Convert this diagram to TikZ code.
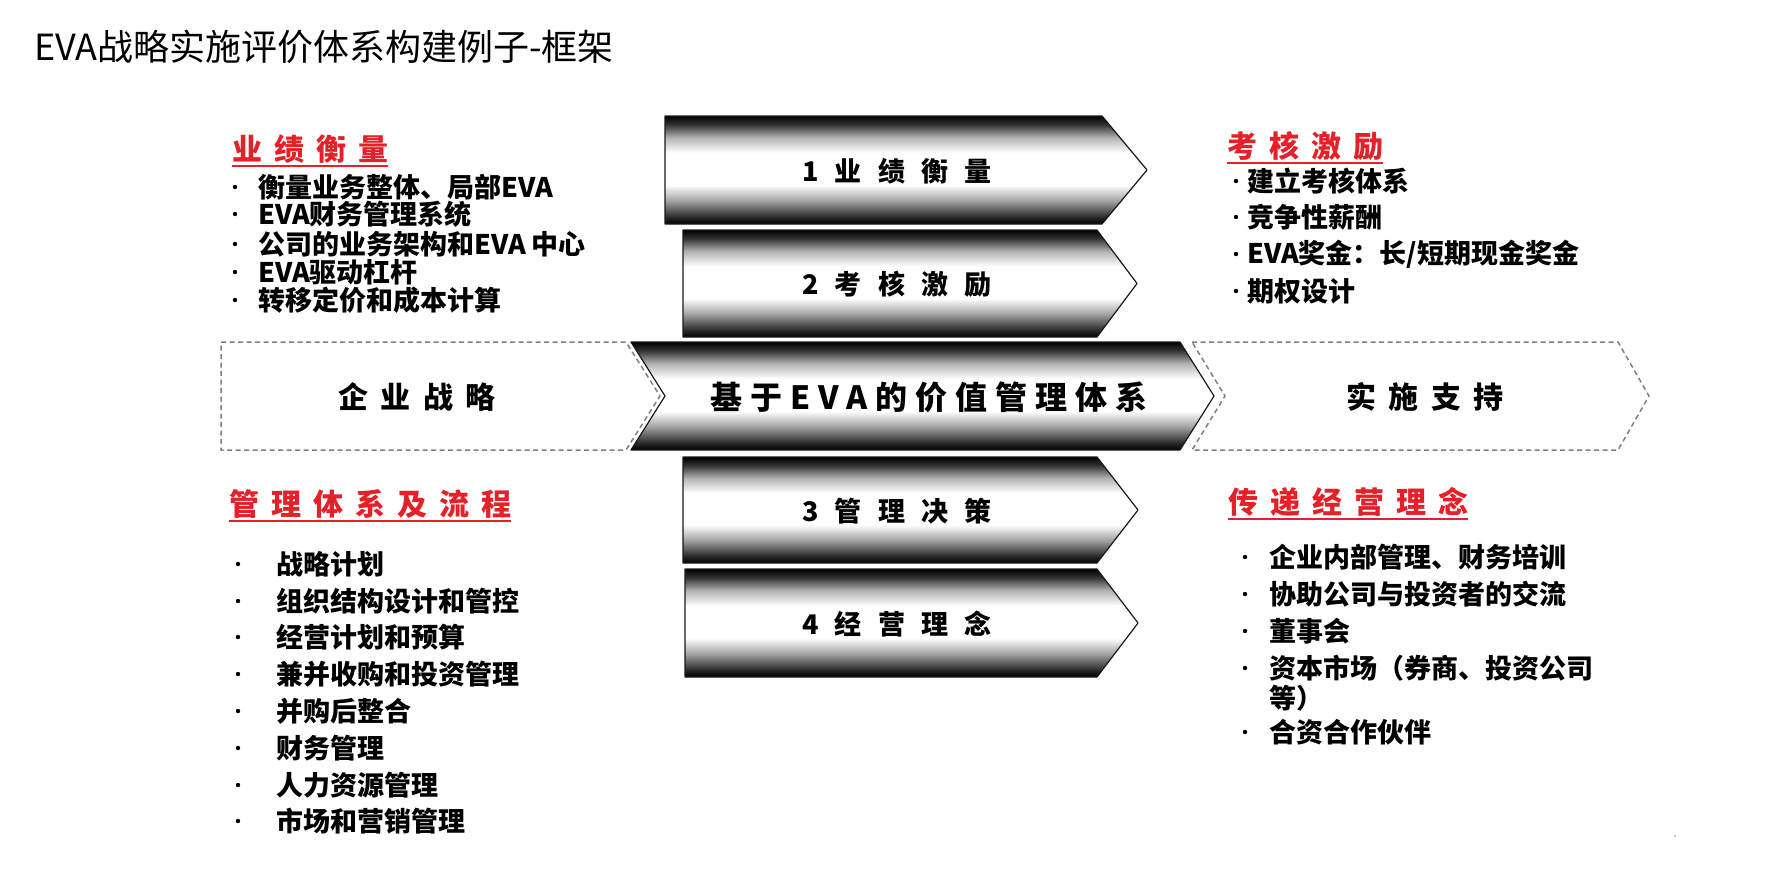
\documentclass[tikz,border=0pt]{standalone}
\usepackage{fontspec}
\newfontfamily\cjk{Noto Sans CJK SC}
\newcommand\fsz[1]{\fontsize{#1}{#1}\selectfont}
\definecolor{headred}{RGB}{228,32,40}
\definecolor{dashgray}{RGB}{128,128,128}
\pgfdeclareverticalshading{metal}{100bp}{color(0bp)=(black); color(25bp)=(black);
  color(28bp)=(black!85); color(36bp)=(black!35); color(43bp)=(white); color(58bp)=(white);
  color(65bp)=(black!30); color(71bp)=(black!80); color(75bp)=(black); color(100bp)=(black)}
\tikzset{
  headline/.style={anchor=west, inner sep=0pt, font=\cjk\fsz{36}},
  steparrow/.style={draw=black!90, line width=1.2pt, shading=metal},
  dashbox/.style={draw=dashgray, line width=1.5pt, dash pattern=on 5pt off 3.5pt},
  steplabel/.style={anchor=west, inner sep=0pt, font=\cjk\bfseries\fsz{27}\addfontfeatures{LetterSpace=60}},
  hublabel/.style={anchor=west, inner sep=0pt, font=\cjk\bfseries\fsz{32}\addfontfeatures{LetterSpace=25}},
  bandlabel/.style={anchor=west, inner sep=0pt, font=\cjk\bfseries\fsz{30}\addfontfeatures{LetterSpace=42}},
  heading/.style={anchor=west, inner sep=0pt, text=headred, font=\cjk\bfseries\fsz{30}\addfontfeatures{LetterSpace=40}},
  underline/.style={draw=headred, line width=2pt},
  itemtext/.style={anchor=west, inner sep=0pt, font=\cjk\bfseries\fsz{27}},
}
\begin{document}
\begin{tikzpicture}[x=1pt, y=-1pt, line join=round]
  \useasboundingbox (0,0) rectangle (1777,884);
  % title
  \node[headline] (head) at (34,47) {EVA战略实施评价体系构建例子-框架};
  % strategy band
  \draw[dashbox] (221,342) -- (626,342) -- (660,396) -- (626,450) -- (221,450) -- cycle;
  \draw[dashbox] (1192,342) -- (1618,342) -- (1649,396) -- (1618,450) -- (1192,450) -- (1225,396) -- cycle;
  \draw[steparrow] (631,342) -- (1180,342) -- (1214,396) -- (1180,450) -- (631,450) -- (665,396) -- cycle;
  \node[bandlabel] (strategy) at (338,397) {企业战略};
  \node[hublabel] (hub) at (710,397) {基于EVA的价值管理体系};
  \node[bandlabel] (support) at (1346,397) {实施支持};
  % steps
  \foreach \l/\e/\k/\t/\b/\txt [count=\i] in {665/1102/1147/116/224/1业绩衡量,
      683/1097/1137/230/337/2考核激励, 683/1097/1138/457/563/3管理决策,
      685/1097/1138/569/677/4经营理念} {
    \draw[steparrow] (\l,\t) -- (\e,\t) -- (\k,{(\t+\b)/2}) -- (\e,\b) -- (\l,\b) -- cycle;
    \node[steplabel] (step\i) at (802,{(\t+\b)/2+1}) {\txt};
  }
  % headings
  \foreach \x/\y/\txt [count=\i] in {232/149/业绩衡量, 1227/146/考核激励,
      229/504/管理体系及流程, 1228/502/传递经营理念} {
    \node[heading] (topic\i) at (\x,\y) {\txt};
    \draw[underline] ([yshift=-2pt]topic\i.south west) -- ([yshift=-2pt]topic\i.south east);
  }
  % lists
  \foreach \y/\txt [count=\i] in {187/衡量业务整体、局部EVA, 214/EVA财务管理系统,
      244/公司的业务架构和EVA 中心, 272/EVA驱动杠杆, 300/转移定价和成本计算} {
    \fill (235,\y) circle (2.2);
    \node[itemtext] (lt\i) at (258,\y) {\txt};
  }
  \foreach \y/\txt [count=\i] in {181/建立考核体系, 217/竞争性薪酬,
      254/{EVA奖金：长/短期现金奖金}, 291/期权设计} {
    \fill (1236,\y) circle (2.2);
    \node[itemtext] (rt\i) at (1247,\y) {\txt};
  }
  \foreach \y/\txt [count=\i] in {564/战略计划, 601/组织结构设计和管控, 637/经营计划和预算,
      674/兼并收购和投资管理, 711/并购后整合, 748/财务管理, 785/人力资源管理, 821/市场和营销管理} {
    \fill (238,\y) circle (2.2);
    \node[itemtext] (lb\i) at (276,\y) {\txt};
  }
  \foreach \y/\txt [count=\i] in {557/企业内部管理、财务培训, 594/协助公司与投资者的交流,
      631/董事会, 668/资本市场（券商、投资公司, 732/合资合作伙伴} {
    \fill (1245,\y) circle (2.2);
    \node[itemtext] (rb\i) at (1269,\y) {\txt};
  }
  \node[itemtext] (rb4b) at (1269,698) {等）};
  \fill[gray!60] (1675,836) circle (1.2);
\end{tikzpicture}
\end{document}
